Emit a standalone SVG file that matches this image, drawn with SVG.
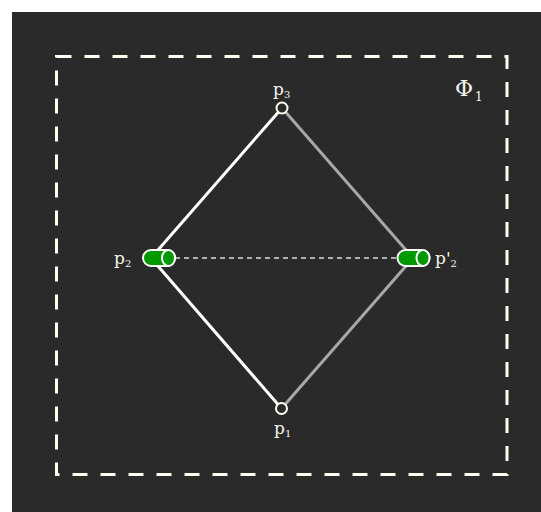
<svg xmlns="http://www.w3.org/2000/svg" width="541" height="512" viewBox="0 0 541 512">
<style>
.lbl{font-family:"DejaVu Serif","Liberation Serif",serif;fill:#f5f5ec;font-size:17px}
.sub{font-size:10px}
.frame{fill:none;stroke:#fffff0;stroke-width:3;stroke-dasharray:15 13}
.edge-w{stroke:#ffffff;stroke-width:3;fill:none}
.edge-g{stroke:#a8a8a8;stroke-width:3;fill:none}
.pt{fill:#2a2a2a;stroke:#fffff0;stroke-width:2}
.cyl{fill:#009900;stroke:#ffffff;stroke-width:2}
</style>
<rect x="12" y="12" width="529" height="500" fill="#2a2a2a"/>
<g id="frame">
<rect class="frame" x="56.5" y="56.5" width="450.5" height="418"/>
<text class="lbl" x="455" y="96" style="font-size:22px">Φ<tspan class="sub" dy="5" dx="2" style="font-size:12px">1</tspan></text>
</g>
<g id="connectors">
<line class="edge-w" x1="282" y1="108" x2="151" y2="258"/>
<line class="edge-w" x1="151" y1="258" x2="281.5" y2="408.5"/>
<line class="edge-g" x1="282" y1="108" x2="413" y2="258"/>
<line class="edge-g" x1="413" y1="258" x2="281.5" y2="408.5"/>
<line x1="175" y1="258" x2="397" y2="258" stroke="#dcdcdc" stroke-width="1.6" stroke-dasharray="5 4"/>
</g>
<g id="p3">
<circle class="pt" cx="282" cy="108" r="5.5"/>
<text class="lbl" x="273" y="95">p<tspan class="sub" dy="3">3</tspan></text>
</g>
<g id="p1">
<circle class="pt" cx="281.5" cy="408.5" r="5.5"/>
<text class="lbl" x="274" y="434">p<tspan class="sub" dy="3">1</tspan></text>
</g>
<g id="p2">
<rect class="cyl" x="143" y="250" width="32" height="16" rx="8"/>
<ellipse class="cyl" cx="168.5" cy="258" rx="6.5" ry="8"/>
<text class="lbl" x="114" y="264">p<tspan class="sub" dy="3">2</tspan></text>
</g>
<g id="p2prime">
<rect class="cyl" x="397.5" y="250" width="32" height="16" rx="8"/>
<ellipse class="cyl" cx="423" cy="258" rx="6.5" ry="8"/>
<text class="lbl" x="435" y="264">p'<tspan class="sub" dy="3">2</tspan></text>
</g>
</svg>
